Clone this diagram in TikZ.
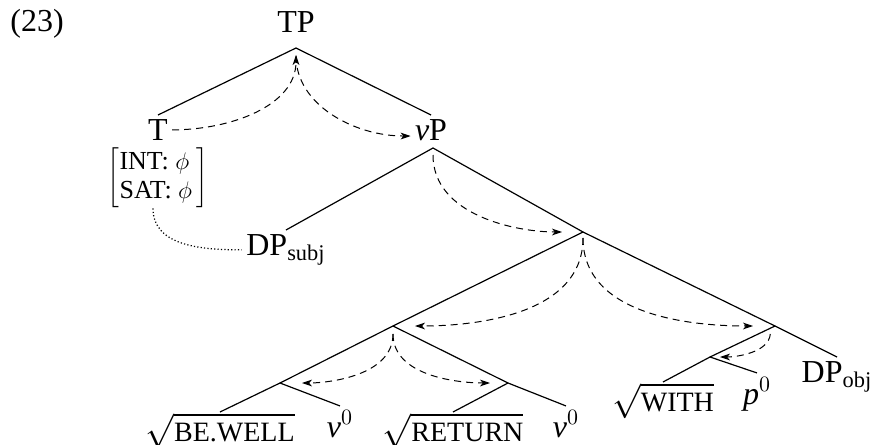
\documentclass[tikz,border=0pt]{standalone}
\usepackage{fontspec}
\setmainfont{Liberation Serif}
\usetikzlibrary{arrows.meta}

% root labels: slightly smaller capitals under a radical
\newcommand\rootcaps[1]{{\fontsize{14pt}{16pt}\selectfont #1}}
\newcommand\rootlab[1]{$\sqrt{\mbox{\rootcaps{#1}}}$}
% feature matrix under T
\newcommand\featmatrix{{\renewcommand\arraystretch{0.93}%
  $\left[\begin{tabular}{@{}l@{\,}}INT: $\phi$\\SAT: $\phi$\end{tabular}\right]$}}

\begin{document}
\begin{tikzpicture}[x=0.5pt,y=-0.5pt,
  font=\fontsize{16pt}{19pt}\selectfont,
  branch/.style={line width=0.6pt},
  lab/.style={inner sep=2pt, anchor=north},
  head/.style={inner sep=2pt, anchor=base},
  rootleaf/.style={inner sep=0.3pt, anchor=north},
  agree/.style={-{Stealth[length=5pt,width=3.4pt,inset=1.4pt]},
                dash pattern=on 3.5pt off 2.5pt, line width=0.5pt},
  link/.style={dash pattern=on 0.6pt off 1.1pt, line width=0.6pt}]
\useasboundingbox (0,0) rectangle (874,445);

% example number
\node (ex) at (37,24) {(23)};

% upper tree
\node (TP) at (296,22) {TP};
\coordinate (tpa) at (296,48);
\node[lab] (T) at (158,115) {T};
\node[lab] (vP) at (431,115) {\textit{v}P};
\coordinate (vpa) at (433,148);
\node[inner sep=0pt, font=\fontsize{13pt}{15.6pt}\selectfont] (feat) at (158,178) {\featmatrix};
\node[lab] (DPs) at (286,230) {DP\textsubscript{subj}};

% branching points
\coordinate (X) at (583,232);
\coordinate (Y) at (393,326);
\coordinate (Z) at (775,326);
\coordinate (U) at (280,383);
\coordinate (V) at (508,383);
\coordinate (W) at (710,357);

% leaves
\node[rootleaf] (bewell) at (220,412) {\rootlab{BE.WELL}};
\node[head] (v1) at (340,437) {\textit{v}$^0$};
\node[rootleaf] (return) at (453,412) {\rootlab{RETURN}};
\node[head] (v2) at (566,437) {\textit{v}$^0$};
\node[rootleaf] (with) at (663,382) {\rootlab{WITH}};
\node[head] (p) at (757,404) {\textit{p}$^0$};
\node[lab] (DPo) at (837,357) {DP\textsubscript{obj}};

% branches
\draw[branch] (T.north) -- (tpa) -- (vP.north);
\draw[branch] (DPs.north) -- (vpa) -- (X);
\draw[branch] (Y) -- (X) -- (Z);
\draw[branch] (U) -- (Y) -- (V);
\draw[branch] (bewell.north) -- (U) -- (v1.north);
\draw[branch] (return.north) -- (V) -- (v2.north);
\draw[branch] (W) -- (Z) -- (DPo.north);
\draw[branch] (with.north) -- (W) -- (p.north);

% feature link
\draw[link] ([xshift=-2.5pt]feat.south) to[out=-90,in=180] (DPs.west);

% agreement paths
\draw[agree, shorten >=3.5pt] (T.east) to[out=0,in=-90] (tpa);
\draw[agree, shorten <=4pt] (tpa) to[out=-90,in=180] ([yshift=-3pt]vP.west);
\draw[agree, shorten <=3.5pt, shorten >=10.5pt] (vpa) to[out=-90,in=180] (X);
\draw[agree, shorten <=3pt, shorten >=11pt] (X) to[out=-90,in=0] (Y);
\draw[agree, shorten <=3pt, shorten >=11pt] (X) to[out=-90,in=180] (Z);
\draw[agree, shorten <=4pt, shorten >=11pt] (Y) to[out=-90,in=0] (U);
\draw[agree, shorten <=4pt, shorten >=9pt] (Y) to[out=-90,in=180] (V);
\draw[agree, shorten <=4pt, shorten >=5pt] ([xshift=-2pt]Z) to[out=-95,in=0] (W);
\end{tikzpicture}
\end{document}
